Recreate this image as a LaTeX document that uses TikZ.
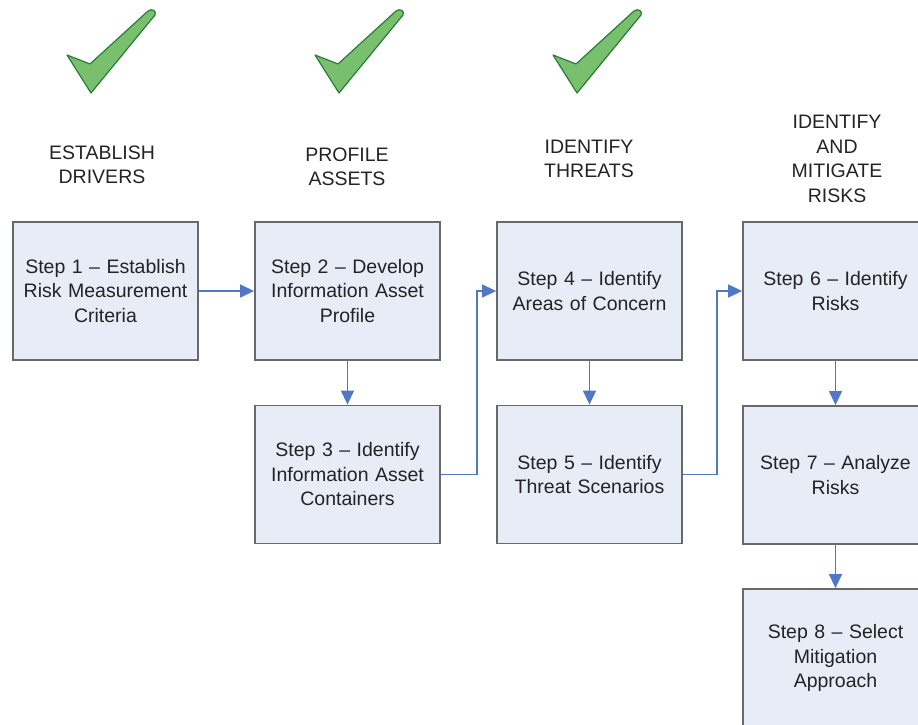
\documentclass[tikz,border=0pt]{standalone}
\usepackage{fontspec}
\setmainfont{Liberation Sans}
\usetikzlibrary{arrows.meta}
\definecolor{boxfill}{RGB}{232,236,247}
\definecolor{boxline}{RGB}{105,105,105}
\definecolor{arrowblue}{RGB}{80,120,198}
\definecolor{checkfill}{RGB}{120,192,110}
\definecolor{checkline}{RGB}{40,125,55}
\definecolor{txt}{RGB}{35,35,35}
\tikzset{
  stepbox/.style={draw=boxline, line width=1.8pt, fill=boxfill, minimum width=185pt, minimum height=138pt,
    inner sep=0pt, align=center, text=txt, font=\fontsize{19.5pt}{24.5pt}\selectfont, text width=180pt},
  header/.style={align=center, text=txt, font=\fontsize{19.5pt}{24.5pt}\selectfont, inner sep=0pt},
  flow/.style={draw=arrowblue, line width=1.4pt, -{Triangle[length=14pt,width=13pt]}},
  checkmark/.style={fill=checkfill, draw=checkline, line width=1.2pt, line join=round}
}
\begin{document}
\begin{tikzpicture}[x=1pt,y=-1pt]
\useasboundingbox (0,0) rectangle (918,725);
% check marks
\foreach \dx/\nm in {0/ca,248/cb,486/cc}{
  \begin{scope}[xshift=\dx pt]
  \path[checkmark] (67,55) -- (90,64) -- (148,11) .. controls (152,8) and (157,11) .. (155,15) -- (91,93) -- cycle;
  \end{scope}
}
% headers
\node[header] (h1) at (102,165) {ESTABLISH\\DRIVERS};
\node[header] (h2) at (347,167) {PROFILE\\ASSETS};
\node[header] (h3) at (589,159) {IDENTIFY\\THREATS};
\node[header] (h4) at (837,159) {IDENTIFY\\AND\\MITIGATE\\RISKS};
% boxes
\node[stepbox] (s1) at (105.5,291) {Step 1 -- Establish\\Risk Measurement\\Criteria};
\node[stepbox] (s2) at (347.5,291) {Step 2 -- Develop\\Information Asset\\Profile};
\node[stepbox] (s3) at (347.5,474.5) {Step 3 -- Identify\\Information Asset\\Containers};
\node[stepbox] (s4) at (589.5,291) {Step 4 -- Identify\\Areas of Concern};
\node[stepbox] (s5) at (589.5,474.5) {Step 5 -- Identify\\Threat Scenarios};
\node[stepbox] (s6) at (835.5,291) {Step 6 -- Identify\\Risks};
\node[stepbox] (s7) at (835.5,475) {Step 7 -- Analyze\\Risks};
\node[stepbox] (s8) at (835.5,658) {Step 8 -- Select\\Mitigation\\Approach};
% connectors
\draw[flow] (s1.east) -- (s2.west);
\draw[flow] (s2.south) -- (s3.north);
\draw[flow] (s3.east) -| (477,291) -- (s4.west);
\draw[flow] (s4.south) -- (s5.north);
\draw[flow] (s5.east) -| (717,291) -- (s6.west);
\draw[flow] (s6.south) -- (s7.north);
\draw[flow] (s7.south) -- (s8.north);
\end{tikzpicture}
\end{document}
